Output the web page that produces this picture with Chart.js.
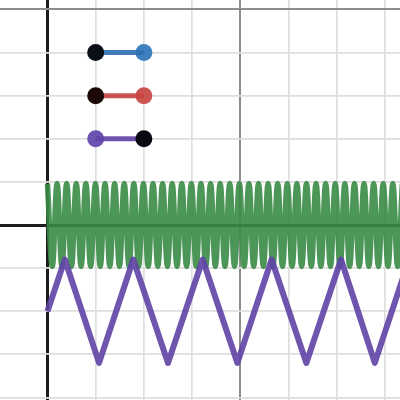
<!DOCTYPE html>
<html>
<head>
<meta charset="utf-8">
<script src="https://cdn.jsdelivr.net/npm/chart.js@4"></script>
<style>
html,body{margin:0;padding:0;background:#fff;}
#wrap{width:400px;height:400px;}
</style>
</head>
<body>
<div id="wrap"><canvas id="c" width="400" height="400"></canvas></div>
<script>
// ---- data ----
const segX = [1, 2];
const blueSegY = [4, 4];
const redSegY = [3, 3];
const purpleSegY = [2, 2];

const zigX = [0, 0.36, 1.07, 1.78, 2.5, 3.22, 3.94, 4.65, 5.37, 6.09, 6.79, 7.5];
const zigY = [-2, -0.8, -3.2, -0.8, -3.2, -0.8, -3.2, -0.8, -3.2, -0.8, -3.2, -0.8];

const greenX = [0, 0.1, 0.199, 0.299, 0.398, 0.498, 0.597, 0.697, 0.796, 0.896,
  0.995, 1.095, 1.194, 1.294, 1.393, 1.493, 1.592, 1.692, 1.791, 1.891,
  1.99, 2.09, 2.189, 2.289, 2.388, 2.488, 2.587, 2.687, 2.786, 2.886,
  2.985, 3.085, 3.184, 3.284, 3.383, 3.483, 3.582, 3.682, 3.781, 3.881,
  3.98, 4.08, 4.179, 4.279, 4.378, 4.478, 4.577, 4.677, 4.776, 4.876,
  4.975, 5.075, 5.174, 5.274, 5.373, 5.473, 5.572, 5.672, 5.771, 5.871,
  5.97, 6.07, 6.169, 6.269, 6.368, 6.468, 6.567, 6.667, 6.766, 6.866,
  6.965, 7.065, 7.164, 7.264, 7.363];
const greenY = [0.96, -0.96, 0.96, -0.96, 0.96, -0.96, 0.96, -0.96, 0.96, -0.96,
  0.96, -0.96, 0.96, -0.96, 0.96, -0.96, 0.96, -0.96, 0.96, -0.96,
  0.96, -0.96, 0.96, -0.96, 0.96, -0.96, 0.96, -0.96, 0.96, -0.96,
  0.96, -0.96, 0.96, -0.96, 0.96, -0.96, 0.96, -0.96, 0.96, -0.96,
  0.96, -0.96, 0.96, -0.96, 0.96, -0.96, 0.96, -0.96, 0.96, -0.96,
  0.96, -0.96, 0.96, -0.96, 0.96, -0.96, 0.96, -0.96, 0.96, -0.96,
  0.96, -0.96, 0.96, -0.96, 0.96, -0.96, 0.96, -0.96, 0.96, -0.96,
  0.96, -0.96, 0.96, -0.96, 0.96];

// endpoints: which end of each segment is the black one
const blackX = [1, 1, 2];
const blackY = [4, 3, 2];
const colorX = [2, 2, 1];
const colorY = [4, 3, 2];

const xMin = -0.985, xMax = 7.313;
const yMin = -4.06, yMax = 5.22;

// ---- helpers ----
const pts = (xs, ys) => xs.map((x, i) => ({x: x, y: ys[i]}));

const BLUE = 'rgba(45,112,179,0.9)';
const RED = 'rgba(199,68,64,0.9)';
const PURPLE = 'rgba(96,66,166,0.9)';
const GREEN = 'rgba(56,140,70,0.9)';

function lineDs(data, color, width, tension) {
  return {data: data, showLine: true, borderColor: color, borderWidth: width,
    pointRadius: 0, tension: tension || 0, borderJoinStyle: 'round', borderCapStyle: 'butt', fill: false};
}
function pointDs(data, colors) {
  return {data: data, showLine: false, pointRadius: 8.5, pointHoverRadius: 8.5,
    pointBackgroundColor: colors, pointBorderWidth: 0, borderWidth: 0};
}

function isInt(v) { return Math.abs(v - Math.round(v)) < 1e-6; }

function integerTicks(scale) {
  const t = [];
  for (let v = Math.ceil(scale.min); v <= Math.floor(scale.max); v++) t.push({value: v});
  scale.ticks = t;
}

function gridOpts(darkVal) {
  return {
    drawTicks: false,
    color: ctx => {
      const v = ctx.tick ? ctx.tick.value : NaN;
      if (!isInt(v)) return 'rgba(0,0,0,0)';
      if (Math.round(v) === 0) return '#1c1c1c';
      if (Math.round(v) === darkVal) return '#8c8c8c';
      return '#dedede';
    },
    lineWidth: ctx => {
      const v = ctx.tick ? ctx.tick.value : NaN;
      if (!isInt(v)) return 0;
      if (Math.round(v) === 0) return 3;
      if (Math.round(v) === darkVal) return 2;
      return 1.7;
    }
  };
}

new Chart(document.getElementById('c'), {
  type: 'scatter',
  data: {
    datasets: [
      // black endpoints on top
      pointDs(pts(blackX, blackY), ['#0a0f17', '#1b0907', '#0b0713']),
      // segment lines
      lineDs(pts(segX, blueSegY), BLUE, 5),
      lineDs(pts(segX, redSegY), RED, 5),
      lineDs(pts(segX, purpleSegY), PURPLE, 5),
      // coloured endpoints beneath the lines
      pointDs(pts(colorX, colorY), ['#3f80c1', '#cc5450', '#6c52b2']),
      lineDs(pts(zigX, zigY), PURPLE, 6, 0),
      lineDs(pts(greenX, greenY), GREEN, 5.5, 0.4)
    ]
  },
  options: {
    responsive: false,
    animation: false,
    events: [],
    layout: {padding: 0, autoPadding: false},
    plugins: {legend: {display: false}, tooltip: {enabled: false}},
    scales: {
      x: {type: 'linear', min: xMin, max: xMax, border: {display: false},
        afterBuildTicks: integerTicks,
        ticks: {display: false, stepSize: 1}, grid: gridOpts(4)},
      y: {type: 'linear', min: yMin, max: yMax, border: {display: false},
        afterBuildTicks: integerTicks,
        ticks: {display: false, stepSize: 1}, grid: gridOpts(5)}
    }
  }
});
</script>
</body>
</html>
